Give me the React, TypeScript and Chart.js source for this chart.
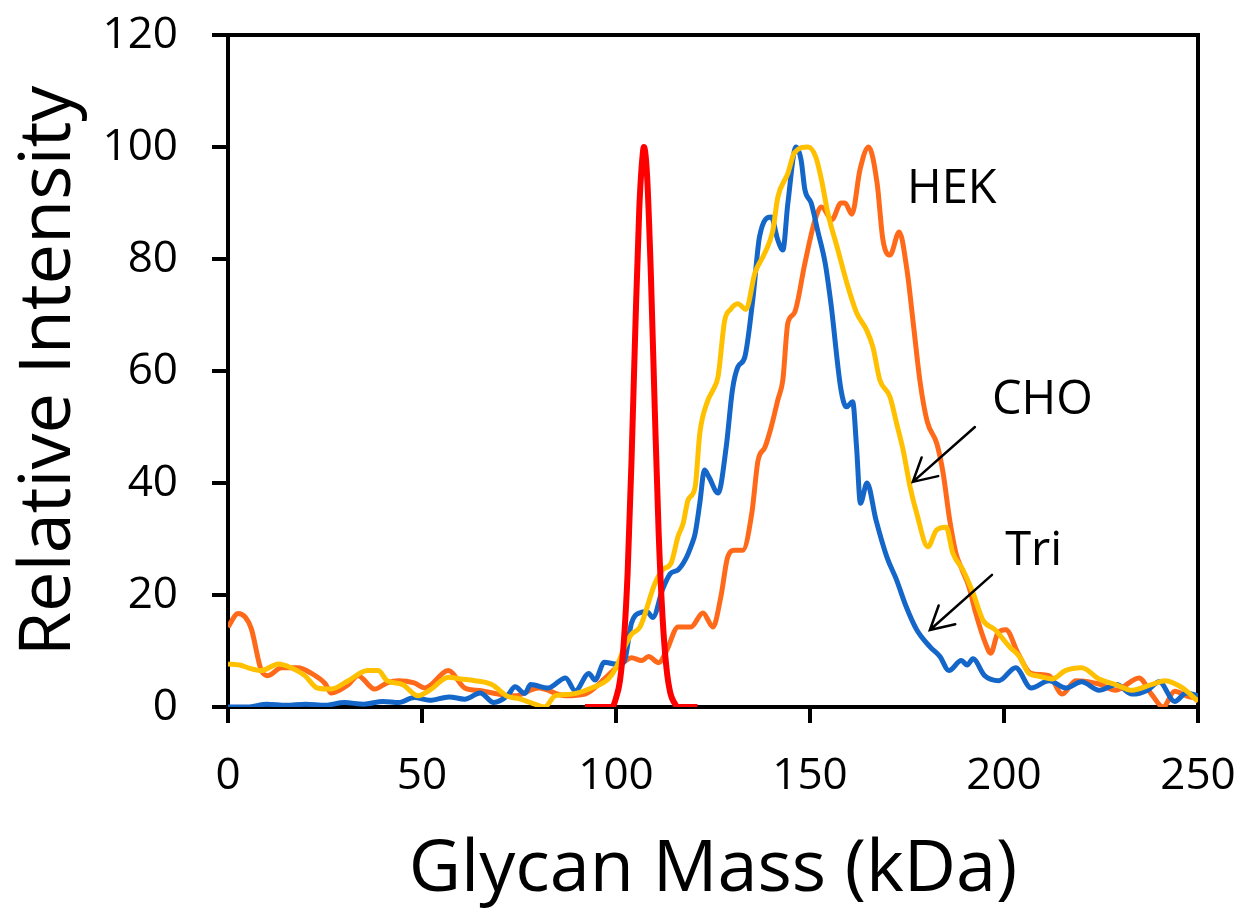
import { useEffect, useRef } from "react";
import { Chart, registerables } from "chart.js";

Chart.register(...registerables);

const FONT = "'Open Sans'";

// ---- Data ----
const xTicks = [0, 50, 100, 150, 200, 250];
const yTicks = [0, 20, 40, 60, 80, 100, 120];

const triMass = [0, 5, 10, 15, 20, 25, 30, 35, 40, 44, 48, 52, 57, 61, 65, 68.5, 72, 74, 76.5, 78, 82.5, 87, 89.5, 93, 94.6, 97, 99.6, 102, 104, 106, 108, 109.5, 112, 114, 116, 118, 119.5, 120.4, 121.6, 122.8, 124, 126.3, 128.4, 130, 131.4, 133.2, 135.3, 137, 140, 141.7, 143, 144.3, 146.4, 147.7, 148.7, 150.3, 152, 153.9, 155.4, 158, 159.4, 161, 162, 163, 164.7, 167, 169.8, 172.3, 174.8, 177.5, 181, 183.5, 185.8, 189, 190.5, 192, 195, 198.7, 203, 207, 211.6, 216, 220, 224.5, 229, 233, 237, 240, 244, 247, 250];
const triIntensity = [0, 0, 0.5, 0.3, 0.5, 0.3, 0.8, 0.5, 1, 0.8, 1.7, 1.2, 1.8, 1.4, 2.5, 0.8, 2, 3.6, 2.4, 4, 3.4, 5.2, 2.9, 6, 4.8, 8, 7.7, 8, 15, 16.8, 17, 16, 21, 23.8, 24.5, 26.5, 29, 31, 36.4, 42.3, 41, 38.2, 46.4, 56.6, 60.7, 62.5, 73, 84, 87.5, 83.4, 81.6, 90, 100, 97.7, 92.3, 90, 85, 79.3, 72, 56.6, 53.6, 54.5, 46.4, 36.4, 40, 33.4, 26.8, 22.7, 17.9, 13.8, 10.7, 9, 6.5, 8.3, 7.5, 8.6, 5.6, 4.7, 7, 3.4, 4.7, 3.4, 4.5, 3, 4, 2.3, 3, 4.5, 1, 2.5, 2];

const hekMass = [0, 2.6, 4.5, 6, 8.6, 10.3, 13.8, 18, 21.5, 25, 26.6, 31, 33.5, 37.8, 41, 44, 48, 50.8, 56.8, 61, 65.3, 69.7, 74, 80, 87, 92, 97, 100, 102, 104, 106.6, 108.4, 111, 113, 116, 119.3, 122.4, 125, 127, 128.8, 130.6, 132.7, 135, 136.6, 138.4, 140, 141.7, 143, 144.3, 146, 148.7, 151.3, 153, 155.6, 158, 159, 160.8, 162.9, 165.1, 167.3, 168.8, 170.6, 173, 175, 176.6, 178.4, 180.2, 182.7, 184.3, 186, 187.6, 189.2, 191, 192.7, 195.2, 196.6, 198.4, 200.5, 203.6, 207, 211.6, 215, 218.5, 224.5, 228.8, 234.8, 238, 241, 244, 247, 250];
const hekIntensity = [14.3, 16.7, 16, 14, 6.5, 5.6, 7, 7, 6, 4.2, 2.5, 4, 5.6, 3.2, 4.3, 4.7, 4.3, 3.4, 6.5, 3.4, 2.9, 2.3, 2, 3.4, 2, 2.3, 5, 7, 8, 8.8, 8.3, 9, 7.9, 10, 14.3, 14.3, 16.8, 14.3, 19.6, 26.8, 28, 28, 34.6, 44, 46.4, 50, 54.8, 58.4, 68.6, 70.4, 79.3, 87, 89.3, 87, 90, 90, 88, 96, 100, 93.5, 83.4, 80.7, 84.8, 78, 68.6, 57.9, 51, 47, 41.8, 33.4, 27.5, 24.5, 21.4, 16.8, 11.4, 9.6, 13.2, 13.8, 9.6, 6, 5.6, 2.3, 4.7, 4.1, 3, 5.2, 2.3, 0, 2.8, 2, 1.5];

const choMass = [0, 3, 5.2, 8.6, 13, 16.3, 19.8, 23, 26.6, 31, 36, 38.7, 41, 45, 49, 52, 56.8, 60, 63.6, 68, 72, 75, 78, 81.6, 84.3, 88.5, 93.7, 98, 100, 102.4, 104, 106.2, 110, 112, 114.2, 116, 117.3, 118.6, 120.4, 121.6, 123.7, 125, 126.3, 128, 129.5, 131.4, 133.5, 135.8, 138.3, 140.4, 141.7, 144.3, 146, 149.5, 151.5, 153, 154.6, 157.2, 159.8, 162, 164.6, 166.2, 168, 170.6, 172.3, 174, 175.8, 177.5, 180.4, 182.6, 185.1, 186.8, 189.4, 192, 194.6, 197.7, 201.5, 204, 206.4, 209, 212.4, 215.8, 220, 224.5, 228.8, 233, 238, 241.6, 246, 250];
const choIntensity = [7.7, 7.5, 7, 6.5, 7.7, 7, 5.6, 3.4, 3.2, 4.7, 6.5, 6.5, 4.7, 4, 2, 3, 5.3, 5, 4.7, 4, 1.9, 1.5, 0.8, 0, 2, 2.3, 3.4, 5, 7, 11, 13, 14.3, 22, 24.5, 25.7, 30.5, 32.8, 37, 39.3, 48.9, 54.8, 56.6, 59, 69, 71, 72, 71, 77.5, 81, 85, 91, 95.3, 99, 100, 98.2, 94, 88.2, 81.6, 75, 70.4, 67.3, 64.3, 58.4, 55.4, 50.7, 45.9, 39.3, 34.6, 28.6, 31.6, 32.1, 27.5, 24.5, 20.4, 15.5, 13.8, 10.7, 9, 6, 5.5, 5, 6.5, 7, 5, 4, 3, 4, 4.7, 3.4, 1];

const refMass = [92, 99, 100, 101, 102, 103, 104, 105, 106, 107, 107.2, 108, 109, 110, 111, 112, 113, 114, 115, 116, 121];
const refIntensity = [0, 0, 1.6, 4.6, 11.5, 24, 44, 68, 89, 99.5, 100, 95, 77, 53, 31, 16, 7, 2.5, 0.8, 0, 0];

const labelText = ["HEK", "CHO", "Tri"];
const labelMass = [175, 196.9, 200.3];
const labelIntensity = [90, 52.3, 25.4];

const arrowTailMass = [192.5, 196.9];
const arrowTailIntensity = [50, 23.6];
const arrowHeadMass = [176.5, 180.9];
const arrowHeadIntensity = [40.2, 13.75];

const toPoints = (xs: number[], ys: number[]) => xs.map((x, i) => ({ x, y: ys[i] }));

const framePlugin = {
  id: "frame",
  beforeDatasetsDraw(chart: any) {
    const { ctx, chartArea } = chart;
    ctx.save();
    ctx.strokeStyle = "#000";
    ctx.lineWidth = 4;
    ctx.strokeRect(chartArea.left, chartArea.top, chartArea.right - chartArea.left, chartArea.bottom - chartArea.top);
    ctx.restore();
  },
};

const annotatePlugin = {
  id: "annotate",
  afterDatasetsDraw(chart: any) {
    const { ctx } = chart;
    const xs = chart.scales.x;
    const ys = chart.scales.y;
    ctx.save();
    ctx.fillStyle = "#000";
    ctx.font = `47px ${FONT}`;
    ctx.textAlign = "left";
    ctx.textBaseline = "alphabetic";
    labelText.forEach((t, i) => {
      ctx.fillText(t, xs.getPixelForValue(labelMass[i]), ys.getPixelForValue(labelIntensity[i]));
    });
    ctx.strokeStyle = "#000";
    ctx.lineWidth = 2.5;
    ctx.lineCap = "round";
    arrowTailMass.forEach((_, i) => {
      const x1 = xs.getPixelForValue(arrowTailMass[i]);
      const y1 = ys.getPixelForValue(arrowTailIntensity[i]);
      const x2 = xs.getPixelForValue(arrowHeadMass[i]);
      const y2 = ys.getPixelForValue(arrowHeadIntensity[i]);
      const ang = Math.atan2(y2 - y1, x2 - x1);
      const len = 26;
      const spread = 0.5;
      ctx.beginPath();
      ctx.moveTo(x1, y1);
      ctx.lineTo(x2, y2);
      ctx.moveTo(x2 - len * Math.cos(ang - spread), y2 - len * Math.sin(ang - spread));
      ctx.lineTo(x2, y2);
      ctx.lineTo(x2 - len * Math.cos(ang + spread), y2 - len * Math.sin(ang + spread));
      ctx.stroke();
    });
    ctx.restore();
  },
};

export default function App() {
  const canvasRef = useRef<HTMLCanvasElement | null>(null);

  useEffect(() => {
    if (!canvasRef.current) return;
    const lineCommon = {
      showLine: true,
      pointRadius: 0,
      pointHoverRadius: 0,
      fill: false,
      cubicInterpolationMode: "monotone" as const,
    };
    const chart = new Chart(canvasRef.current, {
      type: "scatter",
      data: {
        datasets: [
          { ...lineCommon, label: "Reference", data: toPoints(refMass, refIntensity), borderColor: "#FF0000", borderWidth: 6, order: 0 },
          { ...lineCommon, label: "CHO", data: toPoints(choMass, choIntensity), borderColor: "#FFC000", borderWidth: 5, order: 1 },
          { ...lineCommon, label: "Tri", data: toPoints(triMass, triIntensity), borderColor: "#1466C8", borderWidth: 5, order: 2 },
          { ...lineCommon, label: "HEK", data: toPoints(hekMass, hekIntensity), borderColor: "#FF6A1A", borderWidth: 5, order: 3 },
        ],
      },
      options: {
        responsive: false,
        animation: false,
        events: [],
        layout: { autoPadding: false, padding: { top: 35, right: 47, left: 0, bottom: 0 } },
        plugins: {
          legend: { display: false },
          tooltip: { enabled: false },
          title: { display: false },
        },
        scales: {
          x: {
            type: "linear",
            min: 0,
            max: 250,
            afterBuildTicks: (scale: any) => {
              scale.ticks = xTicks.map((v) => ({ value: v }));
            },
            afterFit: (scale: any) => {
              scale.height = 207;
              scale.paddingLeft = 0;
              scale.paddingRight = 0;
            },
            grid: { display: true, drawOnChartArea: false, drawTicks: true, tickLength: 16, color: "#000", lineWidth: 4 },
            border: { display: false },
            ticks: { color: "#000", font: { family: FONT, size: 44 }, padding: 27, maxRotation: 0 },
            title: {
              display: true,
              text: "Glycan Mass (kDa)",
              color: "#000",
              font: { family: FONT, size: 72 },
              padding: { top: 0, bottom: 0 },
            },
          },
          y: {
            type: "linear",
            min: 0,
            max: 120,
            afterBuildTicks: (scale: any) => {
              scale.ticks = yTicks.map((v) => ({ value: v }));
            },
            afterFit: (scale: any) => {
              scale.width = 228;
              scale.paddingTop = 0;
              scale.paddingBottom = 0;
            },
            grid: { display: true, drawOnChartArea: false, drawTicks: true, tickLength: 16, color: "#000", lineWidth: 4 },
            border: { display: false },
            ticks: { color: "#000", font: { family: FONT, size: 44 }, padding: 34 },
            title: {
              display: true,
              text: "Relative Intensity",
              color: "#000",
              font: { family: FONT, size: 72 },
              padding: { top: 6, bottom: 0 },
            },
          },
        },
      },
      plugins: [framePlugin, annotatePlugin],
    });
    return () => chart.destroy();
  }, []);

  return (
    <div style={{ position: "absolute", left: 0, top: 0, width: 1245, height: 914, background: "#fff" }}>
      <canvas ref={canvasRef} width={1245} height={914} style={{ display: "block" }} />
    </div>
  );
}
